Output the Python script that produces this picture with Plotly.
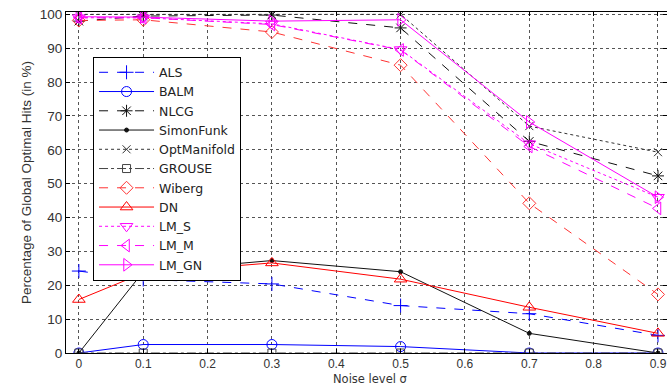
import plotly.graph_objects as go

noise = [0, 0.1, 0.3, 0.5, 0.7, 0.9]

names = ["ALS", "BALM", "NLCG", "SimonFunk", "OptManifold", "GROUSE",
         "Wiberg", "DN", "LM_S", "LM_M", "LM_GN"]

als = [24.2, 21.7, 20.4, 14.0, 11.6, 5.2]
balm = [0, 2.5, 2.5, 1.9, 0, 0]
nlcg = [98.0, 99.5, 99.8, 96.0, 62.5, 52.3]
simonfunk = [0, 24.0, 27.3, 24.0, 5.8, 0]
optmanifold = [100, 100, 100, 100, 67.0, 59.3]
grouse = [0, 0, 0, 0, 0, 0]
wiberg = [98.2, 98.4, 94.8, 85.0, 44.2, 17.3]
dn = [15.8, 23.6, 26.6, 21.8, 13.5, 5.8]
lm_s = [99.0, 99.0, 97.2, 89.6, 61.8, 46.0]
lm_m = [99.0, 99.0, 97.0, 89.5, 61.0, 42.7]
lm_gn = [99.3, 99.2, 98.0, 98.4, 68.2, 46.0]

series = [als, balm, nlcg, simonfunk, optmanifold, grouse,
          wiberg, dn, lm_s, lm_m, lm_gn]

styles = [
    dict(color="#0000ff", dash="dash", symbol="cross-thin-open", size=10),
    dict(color="#0000ff", dash="solid", symbol="circle-open", size=10),
    dict(color="#111111", dash="dash", symbol="asterisk-open", size=10),
    dict(color="#111111", dash="solid", symbol="circle", size=4),
    dict(color="#333333", dash="dot", symbol="x-thin-open", size=8),
    dict(color="#444444", dash="dashdot", symbol="square-open", size=8),
    dict(color="#ff3333", dash="dash", symbol="diamond-open", size=10),
    dict(color="#ff0000", dash="solid", symbol="triangle-up-open", size=11),
    dict(color="#ff00ff", dash="dot", symbol="triangle-down-open", size=11),
    dict(color="#ff00ff", dash="dash", symbol="triangle-left-open", size=11),
    dict(color="#ff00ff", dash="solid", symbol="triangle-right-open", size=11),
]

fig = go.Figure()
for name, vals, st in zip(names, series, styles):
    fig.add_trace(go.Scatter(
        x=noise, y=vals, name=name, mode="lines+markers",
        line=dict(color=st["color"], dash=st["dash"], width=1),
        marker=dict(symbol=st["symbol"], size=st["size"], color=st["color"],
                    line=dict(color=st["color"], width=1)),
    ))

axis_common = dict(
    showline=True, linecolor="black", linewidth=1, mirror="ticks",
    ticks="inside", ticklen=4, tickcolor="black",
    showgrid=True, gridcolor="#555555", griddash="dot", gridwidth=1,
    zeroline=False, ticklabeloverflow="allow",
)

fig.update_xaxes(range=[-0.02, 0.914], tickvals=[0, 0.1, 0.2, 0.3, 0.4, 0.5, 0.6, 0.7, 0.8, 0.9],
                 ticktext=["0", "0.1", "0.2", "0.3", "0.4", "0.5", "0.6", "0.7", "0.8", "0.9"],
                 tickfont=dict(family="Arial, Liberation Sans", size=12, color="#333333"),
                 **axis_common)
fig.update_yaxes(range=[0, 100.7], tickvals=list(range(0, 101, 10)),
                 tickfont=dict(family="Arial, Liberation Sans", size=13.5, color="#333333"),
                 title=dict(text="Percentage of Global Optimal Hits (in %)", standoff=5,
                            font=dict(family="Arial, Liberation Sans", size=13.5, color="#333333")),
                 **axis_common)

fig.add_annotation(text="Noise level σ", xref="paper", yref="paper",
                   x=0.506, y=0, yshift=-18, xanchor="center", yanchor="top",
                   showarrow=False, borderpad=0,
                   font=dict(family="DejaVu Sans", size=11.5, color="#333333"))

fig.update_layout(
    width=667, height=387,
    margin=dict(l=66, r=0, t=12, b=34),
    paper_bgcolor="white", plot_bgcolor="white",
    showlegend=True,
    legend=dict(x=0.045, y=0.869, xanchor="left", yanchor="top",
                bgcolor="white", bordercolor="black", borderwidth=1,
                font=dict(family="DejaVu Sans", size=12.5, color="#222222"),
                tracegroupgap=0, itemwidth=55),
)

fig.write_html("out.html")
